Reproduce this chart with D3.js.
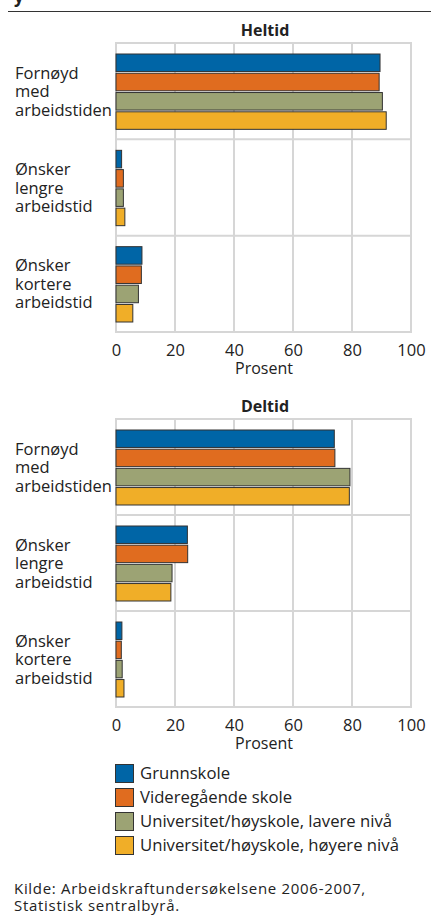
<!DOCTYPE html>
<meta charset="utf-8">
<style>
  body {margin: 0; background: #fff; font-family: "Open Sans", sans-serif;}
  svg text {fill: #222;}
</style>
<svg width="431" height="918"></svg>
<script src="https://cdn.jsdelivr.net/npm/d3@7"></script>
<script>
  // ---------------------------------------------------------------- data
  const categories = ["Fornøyd med arbeidstiden", "Ønsker lengre arbeidstid", "Ønsker kortere arbeidstid"];
  const categoryLines = [["Fornøyd", "med", "arbeidstiden"], ["Ønsker", "lengre", "arbeidstid"], ["Ønsker", "kortere", "arbeidstid"]];
  const series = ["Grunnskole", "Videregående skole", "Universitet/høyskole, lavere nivå", "Universitet/høyskole, høyere nivå"];
  const colors = ["#0065a6", "#e06c1f", "#9ca374", "#f0ae28"];
  const ticks = [0, 20, 40, 60, 80, 100];

  // values per series, in category order
  const heltid = [
    [89.5, 1.9, 8.8],
    [89.2, 2.5, 8.6],
    [90.3, 2.5, 7.6],
    [91.6, 3.0, 5.7]
  ];
  const deltid = [
    [74.0, 24.2, 2.0],
    [74.2, 24.3, 1.8],
    [79.3, 19.0, 2.1],
    [79.1, 18.6, 2.7]
  ];

  // ---------------------------------------------------------------- setup
  const svg = d3.select("svg");
  const x = d3.scaleLinear().domain([0, 100]).range([116, 411]);

  // cut title remnant and rule at top
  svg.append("text").attr("x", 14).attr("y", 3)
    .style("font-size", "17px").style("font-weight", "bold").text("y");
  svg.append("line").attr("x1", 8).attr("x2", 431).attr("y1", 11.5).attr("y2", 11.5)
    .attr("stroke", "#333").attr("stroke-width", 1);

  function panel(title, values, top, bottom) {
    const g = svg.append("g");
    const y = d3.scaleBand().domain(categories).range([top, bottom]);
    const yi = d3.scaleBand().domain(series).range([11, y.bandwidth() - 10]).paddingInner(0.09);

    g.append("text").attr("x", 265).attr("y", top - 7)
      .attr("text-anchor", "middle").style("font-size", "16px").style("font-weight", "bold")
      .text(title);

    // grid
    const grid = g.append("g").attr("stroke", "#d6d6d6").attr("stroke-width", 2);
    grid.selectAll("line.v").data(ticks).enter().append("line")
      .attr("x1", d => x(d)).attr("x2", d => x(d))
      .attr("y1", top).attr("y2", bottom);
    grid.selectAll("line.h").data(categories.concat(["end"])).enter().append("line")
      .attr("x1", x(0) - 1).attr("x2", x(100) + 1)
      .attr("y1", (d, i) => i < 3 ? y(d) : bottom)
      .attr("y2", (d, i) => i < 3 ? y(d) : bottom);

    // bars
    series.forEach((s, si) => {
      g.append("g").selectAll("rect").data(values[si]).enter().append("rect")
        .attr("x", x(0))
        .attr("y", (d, ci) => y(categories[ci]) + yi(s))
        .attr("width", d => x(d) - x(0))
        .attr("height", yi.bandwidth())
        .attr("fill", colors[si])
        .attr("stroke", "#333").attr("stroke-width", 1);
    });

    // category labels
    categories.forEach((c, ci) => {
      const cy = y(c) + y.bandwidth() / 2;
      const t = g.append("text").attr("x", 15).style("font-size", "16.5px");
      categoryLines[ci].forEach((line, li) => {
        t.append("tspan").attr("x", 15).attr("y", cy + 6 + (li - 1) * 18.5).text(line);
      });
    });

    // x axis
    const axis = g.append("g").attr("transform", `translate(0,${bottom})`)
      .call(d3.axisBottom(x).tickValues(ticks).tickSize(0).tickPadding(12));
    axis.select(".domain").remove();
    axis.selectAll("text").style("font-size", "16.5px").style("font-family", "Open Sans").attr("fill", "#222");
    g.append("text").attr("x", 264).attr("y", bottom + 42)
      .attr("text-anchor", "middle").style("font-size", "16px").text("Prosent");
  }

  panel("Heltid", heltid, 43, 332);
  panel("Deltid", deltid, 419, 707);

  // legend
  const legend = svg.append("g");
  series.forEach((s, i) => {
    legend.append("rect").attr("x", 115.5).attr("y", 764.5 + i * 24)
      .attr("width", 18).attr("height", 18)
      .attr("fill", colors[i]).attr("stroke", "#333").attr("stroke-width", 1);
    legend.append("text").attr("x", 140).attr("y", 779 + i * 24)
      .style("font-size", "16.7px").text(s);
  });

  // source
  svg.append("text").attr("x", 14).attr("y", 894).style("font-size", "15px")
    .style("letter-spacing", "0.7px")
    .text("Kilde: Arbeidskraftundersøkelsene 2006-2007,");
  svg.append("text").attr("x", 14).attr("y", 911).style("font-size", "15px")
    .style("letter-spacing", "0.7px")
    .text("Statistisk sentralbyrå.");
</script>
